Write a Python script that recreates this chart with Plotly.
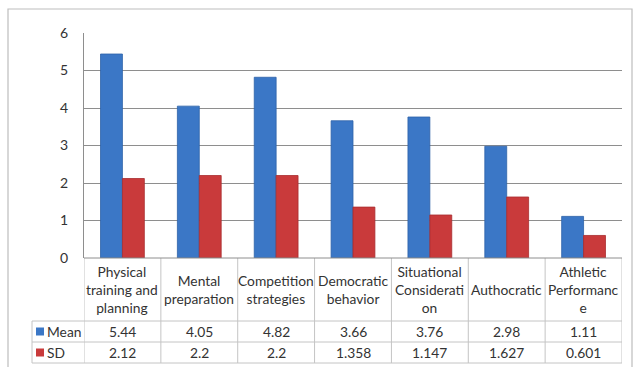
import plotly.graph_objects as go

# ---- data ----
categories = [
    "Physical training and planning",
    "Mental preparation",
    "Competition strategies",
    "Democratic behavior",
    "Situational Consideration",
    "Authocratic",
    "Athletic Performance",
]
header_labels = [
    "Physical<br>training and<br>planning",
    "Mental<br>preparation",
    "Competition<br>strategies",
    "Democratic<br>behavior",
    "Situational<br>Considerati<br>on",
    "Authocratic",
    "Athletic<br>Performanc<br>e",
]
mean_values = [5.44, 4.05, 4.82, 3.66, 3.76, 2.98, 1.11]
sd_values = [2.12, 2.2, 2.2, 1.358, 1.147, 1.627, 0.601]
mean_text = ["5.44", "4.05", "4.82", "3.66", "3.76", "2.98", "1.11"]
sd_text = ["2.12", "2.2", "2.2", "1.358", "1.147", "1.627", "0.601"]
y_ticks = [0, 1, 2, 3, 4, 5, 6]

# ---- layout geometry (pixels) ----
W_FIG, H_FIG = 635, 367
L, R, T, B = 84, 622, 33, 258          # plot area edges
PW, PH = R - L, B - T
ROW_HDR, ROW_MEAN, ROW_SD, ROW_END = 258, 321, 342, 363
LEG_LEFT = 32

FONT = "Lato"
TXT = "#333333"
TABLE_SIZE = 13.8
BLUE, BLUE_EDGE = "#3b77c6", "#2d62a8"
RED, RED_EDGE = "#c93a3b", "#a82c2e"
TABLE_LINE = "#c4c4c4"
GRID = "#8e8e8e"


def px_x(p):
    return (p - L) / PW


def px_y(p):
    return (B - p) / PH


idx = list(range(len(categories)))

fig = go.Figure()
fig.add_trace(go.Bar(x=idx, y=mean_values, name="Mean",
                     marker=dict(color=BLUE, line=dict(color=BLUE_EDGE, width=0.8))))
fig.add_trace(go.Bar(x=idx, y=sd_values, name="SD",
                     marker=dict(color=RED, line=dict(color=RED_EDGE, width=0.8))))

shapes = []
# chart-area frame
shapes.append(dict(type="rect", xref="paper", yref="paper",
                   x0=px_x(8), x1=px_x(632), y0=px_y(9), y1=px_y(380),
                   line=dict(color="#bdbdbd", width=1.2), layer="below"))
# data table: vertical column separators
for i in range(len(categories) + 1):
    shapes.append(dict(type="line", xref="x", yref="paper",
                       x0=i - 0.5, x1=i - 0.5, y0=px_y(ROW_HDR), y1=px_y(ROW_END),
                       line=dict(color=TABLE_LINE, width=1)))
# legend column left edge
shapes.append(dict(type="line", xref="paper", yref="paper",
                   x0=px_x(LEG_LEFT), x1=px_x(LEG_LEFT),
                   y0=px_y(ROW_MEAN), y1=px_y(ROW_END),
                   line=dict(color=TABLE_LINE, width=1)))
# horizontal row lines
for yy in (ROW_MEAN, ROW_SD, ROW_END):
    shapes.append(dict(type="line", xref="paper", yref="paper",
                       x0=px_x(LEG_LEFT), x1=1, y0=px_y(yy), y1=px_y(yy),
                       line=dict(color=TABLE_LINE, width=1)))
# legend keys
for yc, col in (((ROW_MEAN + ROW_SD) / 2, BLUE), ((ROW_SD + ROW_END) / 2, RED)):
    shapes.append(dict(type="rect", xref="paper", yref="paper",
                       x0=px_x(36), x1=px_x(44), y0=px_y(yc - 4), y1=px_y(yc + 4),
                       fillcolor=col, line=dict(width=0)))

annotations = []
for i, lab in zip(idx, header_labels):
    annotations.append(dict(x=i, y=px_y((ROW_HDR + ROW_MEAN) / 2), xref="x", yref="paper",
                            text=lab, showarrow=False, xanchor="center", yanchor="middle",
                            font=dict(family=FONT, size=TABLE_SIZE, color=TXT)))
for row_text, yc in ((mean_text, (ROW_MEAN + ROW_SD) / 2), (sd_text, (ROW_SD + ROW_END) / 2)):
    for i, t in zip(idx, row_text):
        annotations.append(dict(x=i, y=px_y(yc), xref="x", yref="paper", text=t,
                                showarrow=False, xanchor="center", yanchor="middle",
                                font=dict(family=FONT, size=TABLE_SIZE, color=TXT)))
for name, yc in (("Mean", (ROW_MEAN + ROW_SD) / 2), ("SD", (ROW_SD + ROW_END) / 2)):
    annotations.append(dict(x=px_x(45), y=px_y(yc), xref="paper", yref="paper", text=name,
                            showarrow=False, xanchor="left", yanchor="middle",
                            font=dict(family=FONT, size=TABLE_SIZE, color=TXT)))

fig.update_layout(
    width=W_FIG, height=H_FIG, autosize=False,
    margin=dict(l=L, r=W_FIG - R, t=T, b=H_FIG - B, pad=0),
    paper_bgcolor="white", plot_bgcolor="white",
    barmode="group", bargap=0.43, bargroupgap=0,
    showlegend=False,
    font=dict(family=FONT, size=13, color=TXT),
    shapes=shapes, annotations=annotations,
    xaxis=dict(range=[-0.5, len(categories) - 0.5], showticklabels=False, ticks="",
               showgrid=False, zeroline=False, showline=False),
    yaxis=dict(range=[0, 6], tickvals=y_ticks, showgrid=True, gridcolor=GRID, gridwidth=1,
               zeroline=False, showline=True, linecolor=GRID, linewidth=1, ticks="",
               ticklabelstandoff=12, tickfont=dict(family=FONT, size=14, color=TXT)),
)
# baseline of the plot area (top edge of the table)
fig.add_shape(type="line", xref="paper", yref="paper", x0=0, x1=1, y0=0, y1=0,
              line=dict(color=GRID, width=1))

fig.write_html("out.html")
